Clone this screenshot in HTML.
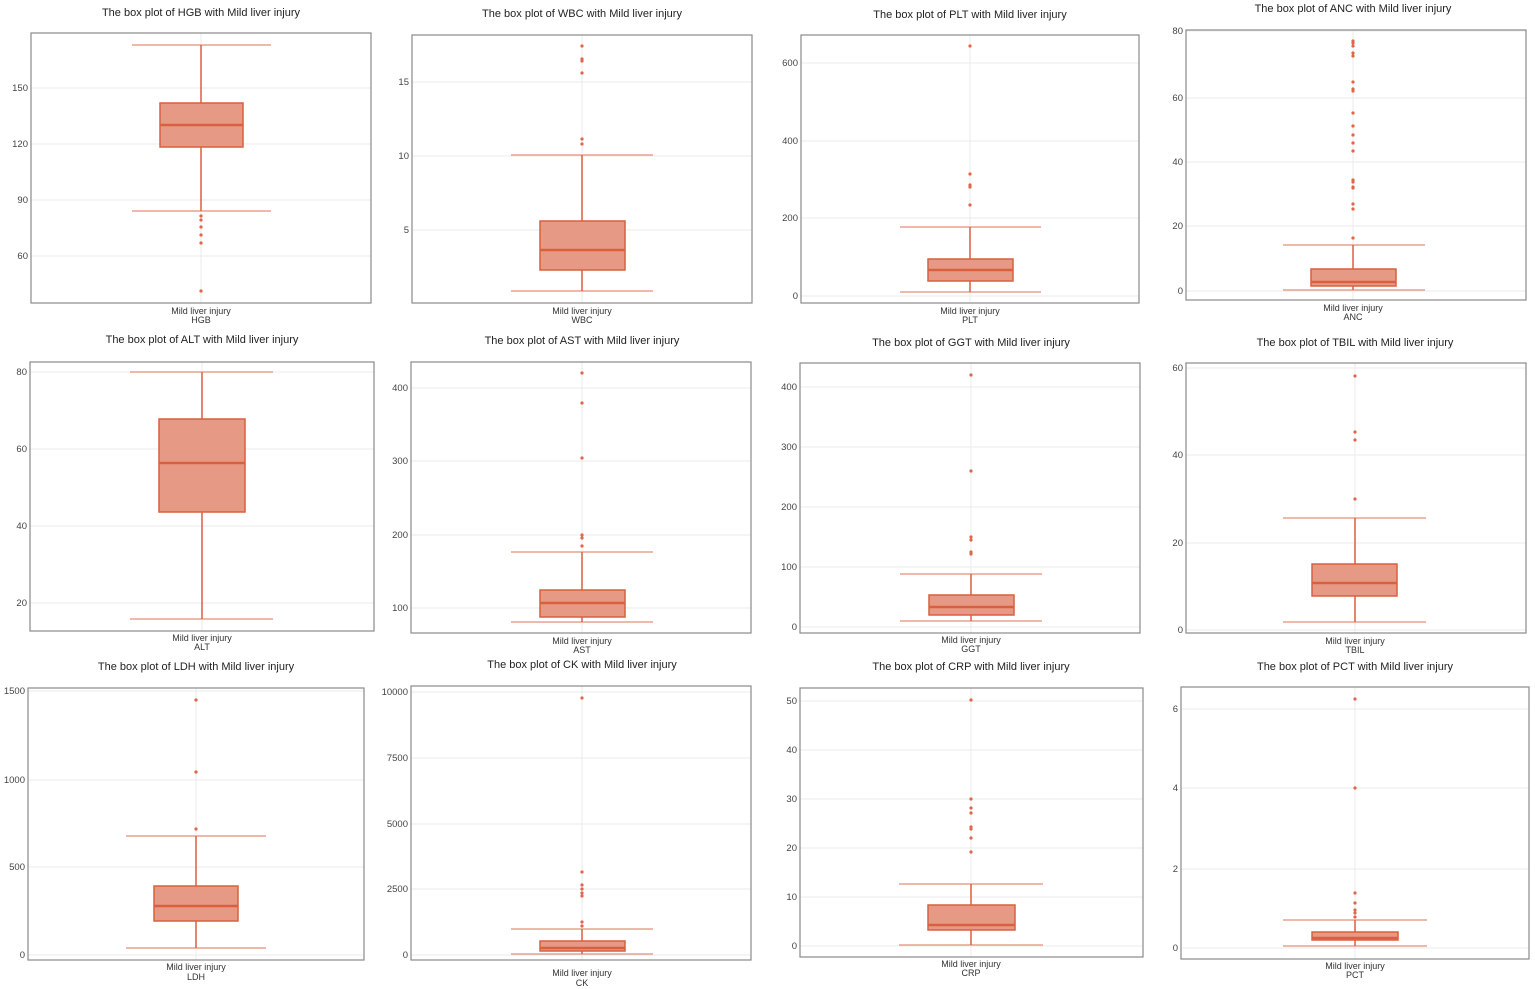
<!DOCTYPE html>
<html><head><meta charset="utf-8"><style>
html,body{margin:0;padding:0;background:#fff;}
svg{display:block;font-family:"Liberation Sans",sans-serif;}
.t{font-size:11px;fill:#222;text-anchor:middle;}
.l{font-size:9px;fill:#333;text-anchor:middle;}
.y{font-size:9.5px;fill:#444;text-anchor:end;}
.f{fill:none;stroke:#8a8a8a;stroke-width:1.2;}
.g{stroke:#ebebeb;stroke-width:1;}
.v{stroke:#ebebeb;stroke-width:1;}
.b{fill:#e69a85;stroke:#d9603e;stroke-width:1.5;}
.m{stroke:#d9603e;stroke-width:2.5;}
.w{stroke:#d9603e;stroke-width:1.5;}
.c{stroke:#e8a28f;stroke-width:1.5;}
.o{fill:#e0664a;}
</style></head><body>
<svg width="1535" height="989" viewBox="0 0 1535 989">
<!-- HGB -->
<g>
<text class="t" x="201" y="16">The box plot of HGB with Mild liver injury</text>
<line class="g" x1="31" x2="371" y1="88" y2="88"/><line class="g" x1="31" x2="371" y1="144" y2="144"/><line class="g" x1="31" x2="371" y1="200" y2="200"/><line class="g" x1="31" x2="371" y1="256" y2="256"/>
<line class="v" x1="201" x2="201" y1="33" y2="303"/>
<line class="c" x1="132" x2="271" y1="45" y2="45"/><line class="c" x1="132" x2="271" y1="211" y2="211"/>
<line class="w" x1="201" x2="201" y1="45" y2="211"/>
<rect class="b" x="160" y="103" width="83" height="44"/><line class="m" x1="160" x2="243" y1="125" y2="125"/>
<circle class="o" cx="201" cy="216" r="1.6"/><circle class="o" cx="201" cy="220" r="1.6"/><circle class="o" cx="201" cy="227" r="1.6"/><circle class="o" cx="201" cy="235" r="1.6"/><circle class="o" cx="201" cy="243" r="1.6"/><circle class="o" cx="201" cy="291" r="1.6"/>
<rect class="f" x="31" y="33" width="340" height="270"/>
<text class="y" x="28" y="91">150</text><text class="y" x="28" y="147">120</text><text class="y" x="28" y="203">90</text><text class="y" x="28" y="259">60</text>
<text class="l" x="201" y="314">Mild liver injury</text><text class="l" x="201" y="323">HGB</text>
</g>
<!-- WBC -->
<g>
<text class="t" x="582" y="17">The box plot of WBC with Mild liver injury</text>
<line class="g" x1="412" x2="752" y1="82" y2="82"/><line class="g" x1="412" x2="752" y1="156" y2="156"/><line class="g" x1="412" x2="752" y1="230" y2="230"/>
<line class="v" x1="582" x2="582" y1="35" y2="303"/>
<line class="c" x1="511" x2="653" y1="155" y2="155"/><line class="c" x1="511" x2="653" y1="291" y2="291"/>
<line class="w" x1="582" x2="582" y1="155" y2="291"/>
<rect class="b" x="540" y="221" width="85" height="49"/><line class="m" x1="540" x2="625" y1="250" y2="250"/>
<circle class="o" cx="582" cy="46" r="1.6"/><circle class="o" cx="582" cy="59" r="1.6"/><circle class="o" cx="582" cy="61" r="1.6"/><circle class="o" cx="582" cy="73" r="1.6"/><circle class="o" cx="582" cy="139" r="1.6"/><circle class="o" cx="582" cy="144" r="1.6"/>
<rect class="f" x="412" y="35" width="340" height="268"/>
<text class="y" x="409" y="85">15</text><text class="y" x="409" y="159">10</text><text class="y" x="409" y="233">5</text>
<text class="l" x="582" y="314">Mild liver injury</text><text class="l" x="582" y="323">WBC</text>
</g>
<!-- PLT -->
<g>
<text class="t" x="970" y="18">The box plot of PLT with Mild liver injury</text>
<line class="g" x1="801" x2="1139" y1="63" y2="63"/><line class="g" x1="801" x2="1139" y1="141" y2="141"/><line class="g" x1="801" x2="1139" y1="218" y2="218"/><line class="g" x1="801" x2="1139" y1="296" y2="296"/>
<line class="v" x1="970" x2="970" y1="35" y2="303"/>
<line class="c" x1="900" x2="1041" y1="227" y2="227"/><line class="c" x1="900" x2="1041" y1="292" y2="292"/>
<line class="w" x1="970" x2="970" y1="227" y2="292"/>
<rect class="b" x="928" y="259" width="85" height="22"/><line class="m" x1="928" x2="1013" y1="270" y2="270"/>
<circle class="o" cx="970" cy="46" r="1.6"/><circle class="o" cx="970" cy="174" r="1.6"/><circle class="o" cx="970" cy="185" r="1.6"/><circle class="o" cx="970" cy="187" r="1.6"/><circle class="o" cx="970" cy="205" r="1.6"/>
<rect class="f" x="801" y="35" width="338" height="268"/>
<text class="y" x="798" y="66">600</text><text class="y" x="798" y="144">400</text><text class="y" x="798" y="221">200</text><text class="y" x="798" y="299">0</text>
<text class="l" x="970" y="314">Mild liver injury</text><text class="l" x="970" y="323">PLT</text>
</g>
<!-- ANC -->
<g>
<text class="t" x="1353" y="12">The box plot of ANC with Mild liver injury</text>
<line class="g" x1="1186" x2="1526" y1="31" y2="31"/><line class="g" x1="1186" x2="1526" y1="98" y2="98"/><line class="g" x1="1186" x2="1526" y1="162" y2="162"/><line class="g" x1="1186" x2="1526" y1="226" y2="226"/><line class="g" x1="1186" x2="1526" y1="291" y2="291"/>
<line class="v" x1="1353" x2="1353" y1="30" y2="300"/>
<line class="c" x1="1283" x2="1425" y1="245" y2="245"/><line class="c" x1="1283" x2="1425" y1="290" y2="290"/>
<line class="w" x1="1353" x2="1353" y1="245" y2="290"/>
<rect class="b" x="1311" y="269" width="85" height="17"/><line class="m" x1="1311" x2="1396" y1="282" y2="282"/>
<circle class="o" cx="1353" cy="41" r="1.6"/><circle class="o" cx="1353" cy="43" r="1.6"/><circle class="o" cx="1353" cy="46" r="1.6"/><circle class="o" cx="1353" cy="53" r="1.6"/><circle class="o" cx="1353" cy="56" r="1.6"/><circle class="o" cx="1353" cy="82" r="1.6"/><circle class="o" cx="1353" cy="89" r="1.6"/><circle class="o" cx="1353" cy="91" r="1.6"/><circle class="o" cx="1353" cy="113" r="1.6"/><circle class="o" cx="1353" cy="126" r="1.6"/><circle class="o" cx="1353" cy="135" r="1.6"/><circle class="o" cx="1353" cy="143" r="1.6"/><circle class="o" cx="1353" cy="151" r="1.6"/><circle class="o" cx="1353" cy="180" r="1.6"/><circle class="o" cx="1353" cy="182" r="1.6"/><circle class="o" cx="1353" cy="187" r="1.6"/><circle class="o" cx="1353" cy="188" r="1.6"/><circle class="o" cx="1353" cy="204" r="1.6"/><circle class="o" cx="1353" cy="209" r="1.6"/><circle class="o" cx="1353" cy="238" r="1.6"/>
<rect class="f" x="1186" y="30" width="340" height="270"/>
<text class="y" x="1183" y="34">80</text><text class="y" x="1183" y="101">60</text><text class="y" x="1183" y="165">40</text><text class="y" x="1183" y="229">20</text><text class="y" x="1183" y="294">0</text>
<text class="l" x="1353" y="311">Mild liver injury</text><text class="l" x="1353" y="320">ANC</text>
</g>
<!-- ALT -->
<g>
<text class="t" x="202" y="343">The box plot of ALT with Mild liver injury</text>
<line class="g" x1="30" x2="374" y1="372" y2="372"/><line class="g" x1="30" x2="374" y1="449" y2="449"/><line class="g" x1="30" x2="374" y1="526" y2="526"/><line class="g" x1="30" x2="374" y1="603" y2="603"/>
<line class="v" x1="202" x2="202" y1="362" y2="631"/>
<line class="c" x1="130" x2="273" y1="372" y2="372"/><line class="c" x1="130" x2="273" y1="619" y2="619"/>
<line class="w" x1="202" x2="202" y1="372" y2="619"/>
<rect class="b" x="159" y="419" width="86" height="93"/><line class="m" x1="159" x2="245" y1="463" y2="463"/>
<rect class="f" x="30" y="362" width="344" height="269"/>
<text class="y" x="27" y="375">80</text><text class="y" x="27" y="452">60</text><text class="y" x="27" y="529">40</text><text class="y" x="27" y="606">20</text>
<text class="l" x="202" y="641">Mild liver injury</text><text class="l" x="202" y="650">ALT</text>
</g>
<!-- AST -->
<g>
<text class="t" x="582" y="344">The box plot of AST with Mild liver injury</text>
<line class="g" x1="411" x2="751" y1="388" y2="388"/><line class="g" x1="411" x2="751" y1="461" y2="461"/><line class="g" x1="411" x2="751" y1="535" y2="535"/><line class="g" x1="411" x2="751" y1="608" y2="608"/>
<line class="v" x1="582" x2="582" y1="362" y2="633"/>
<line class="c" x1="511" x2="653" y1="552" y2="552"/><line class="c" x1="511" x2="653" y1="622" y2="622"/>
<line class="w" x1="582" x2="582" y1="552" y2="622"/>
<rect class="b" x="540" y="590" width="85" height="27"/><line class="m" x1="540" x2="625" y1="603" y2="603"/>
<circle class="o" cx="582" cy="373" r="1.6"/><circle class="o" cx="582" cy="403" r="1.6"/><circle class="o" cx="582" cy="458" r="1.6"/><circle class="o" cx="582" cy="535" r="1.6"/><circle class="o" cx="582" cy="538" r="1.6"/><circle class="o" cx="582" cy="546" r="1.6"/>
<rect class="f" x="411" y="362" width="340" height="271"/>
<text class="y" x="408" y="391">400</text><text class="y" x="408" y="464">300</text><text class="y" x="408" y="538">200</text><text class="y" x="408" y="611">100</text>
<text class="l" x="582" y="644">Mild liver injury</text><text class="l" x="582" y="653">AST</text>
</g>
<!-- GGT -->
<g>
<text class="t" x="971" y="346">The box plot of GGT with Mild liver injury</text>
<line class="g" x1="800" x2="1140" y1="387" y2="387"/><line class="g" x1="800" x2="1140" y1="447" y2="447"/><line class="g" x1="800" x2="1140" y1="507" y2="507"/><line class="g" x1="800" x2="1140" y1="567" y2="567"/><line class="g" x1="800" x2="1140" y1="627" y2="627"/>
<line class="v" x1="971" x2="971" y1="363" y2="633"/>
<line class="c" x1="900" x2="1042" y1="574" y2="574"/><line class="c" x1="900" x2="1042" y1="621" y2="621"/>
<line class="w" x1="971" x2="971" y1="574" y2="621"/>
<rect class="b" x="929" y="595" width="85" height="20"/><line class="m" x1="929" x2="1014" y1="607" y2="607"/>
<circle class="o" cx="971" cy="375" r="1.6"/><circle class="o" cx="971" cy="471" r="1.6"/><circle class="o" cx="971" cy="537" r="1.6"/><circle class="o" cx="971" cy="540" r="1.6"/><circle class="o" cx="971" cy="552" r="1.6"/><circle class="o" cx="971" cy="554" r="1.6"/>
<rect class="f" x="800" y="363" width="340" height="270"/>
<text class="y" x="797" y="390">400</text><text class="y" x="797" y="450">300</text><text class="y" x="797" y="510">200</text><text class="y" x="797" y="570">100</text><text class="y" x="797" y="630">0</text>
<text class="l" x="971" y="643">Mild liver injury</text><text class="l" x="971" y="652">GGT</text>
</g>
<!-- TBIL -->
<g>
<text class="t" x="1355" y="346">The box plot of TBIL with Mild liver injury</text>
<line class="g" x1="1186" x2="1526" y1="368" y2="368"/><line class="g" x1="1186" x2="1526" y1="455" y2="455"/><line class="g" x1="1186" x2="1526" y1="543" y2="543"/><line class="g" x1="1186" x2="1526" y1="630" y2="630"/>
<line class="v" x1="1355" x2="1355" y1="363" y2="633"/>
<line class="c" x1="1283" x2="1426" y1="518" y2="518"/><line class="c" x1="1283" x2="1426" y1="622" y2="622"/>
<line class="w" x1="1355" x2="1355" y1="518" y2="622"/>
<rect class="b" x="1312" y="564" width="85" height="32"/><line class="m" x1="1312" x2="1397" y1="583" y2="583"/>
<circle class="o" cx="1355" cy="376" r="1.6"/><circle class="o" cx="1355" cy="432" r="1.6"/><circle class="o" cx="1355" cy="440" r="1.6"/><circle class="o" cx="1355" cy="499" r="1.6"/>
<rect class="f" x="1186" y="363" width="340" height="270"/>
<text class="y" x="1183" y="371">60</text><text class="y" x="1183" y="458">40</text><text class="y" x="1183" y="546">20</text><text class="y" x="1183" y="633">0</text>
<text class="l" x="1355" y="644">Mild liver injury</text><text class="l" x="1355" y="653">TBIL</text>
</g>
<!-- LDH -->
<g>
<text class="t" x="196" y="670">The box plot of LDH with Mild liver injury</text>
<line class="g" x1="28" x2="364" y1="691" y2="691"/><line class="g" x1="28" x2="364" y1="780" y2="780"/><line class="g" x1="28" x2="364" y1="867" y2="867"/><line class="g" x1="28" x2="364" y1="955" y2="955"/>
<line class="v" x1="196" x2="196" y1="688" y2="960"/>
<line class="c" x1="126" x2="266" y1="836" y2="836"/><line class="c" x1="126" x2="266" y1="948" y2="948"/>
<line class="w" x1="196" x2="196" y1="836" y2="948"/>
<rect class="b" x="154" y="886" width="84" height="35"/><line class="m" x1="154" x2="238" y1="906" y2="906"/>
<circle class="o" cx="196" cy="700" r="1.6"/><circle class="o" cx="196" cy="772" r="1.6"/><circle class="o" cx="196" cy="829" r="1.6"/>
<rect class="f" x="28" y="688" width="336" height="272"/>
<text class="y" x="25" y="694">1500</text><text class="y" x="25" y="783">1000</text><text class="y" x="25" y="870">500</text><text class="y" x="25" y="958">0</text>
<text class="l" x="196" y="970">Mild liver injury</text><text class="l" x="196" y="980">LDH</text>
</g>
<!-- CK -->
<g>
<text class="t" x="582" y="668">The box plot of CK with Mild liver injury</text>
<line class="g" x1="411" x2="751" y1="692" y2="692"/><line class="g" x1="411" x2="751" y1="758" y2="758"/><line class="g" x1="411" x2="751" y1="824" y2="824"/><line class="g" x1="411" x2="751" y1="889" y2="889"/><line class="g" x1="411" x2="751" y1="955" y2="955"/>
<line class="v" x1="582" x2="582" y1="686" y2="960"/>
<line class="c" x1="511" x2="653" y1="929" y2="929"/><line class="c" x1="511" x2="653" y1="954" y2="954"/>
<line class="w" x1="582" x2="582" y1="929" y2="954"/>
<rect class="b" x="540" y="941" width="85" height="10"/><line class="m" x1="540" x2="625" y1="948" y2="948"/>
<circle class="o" cx="582" cy="698" r="1.6"/><circle class="o" cx="582" cy="872" r="1.6"/><circle class="o" cx="582" cy="885" r="1.6"/><circle class="o" cx="582" cy="889" r="1.6"/><circle class="o" cx="582" cy="893" r="1.6"/><circle class="o" cx="582" cy="896" r="1.6"/><circle class="o" cx="582" cy="922" r="1.6"/><circle class="o" cx="582" cy="926" r="1.6"/>
<rect class="f" x="411" y="686" width="340" height="274"/>
<text class="y" x="408" y="695">10000</text><text class="y" x="408" y="761">7500</text><text class="y" x="408" y="827">5000</text><text class="y" x="408" y="892">2500</text><text class="y" x="408" y="958">0</text>
<text class="l" x="582" y="976">Mild liver injury</text><text class="l" x="582" y="986">CK</text>
</g>
<!-- CRP -->
<g>
<text class="t" x="971" y="670">The box plot of CRP with Mild liver injury</text>
<line class="g" x1="800" x2="1143" y1="701" y2="701"/><line class="g" x1="800" x2="1143" y1="750" y2="750"/><line class="g" x1="800" x2="1143" y1="799" y2="799"/><line class="g" x1="800" x2="1143" y1="848" y2="848"/><line class="g" x1="800" x2="1143" y1="897" y2="897"/><line class="g" x1="800" x2="1143" y1="946" y2="946"/>
<line class="v" x1="971" x2="971" y1="688" y2="957"/>
<line class="c" x1="899" x2="1043" y1="884" y2="884"/><line class="c" x1="899" x2="1043" y1="945" y2="945"/>
<line class="w" x1="971" x2="971" y1="884" y2="945"/>
<rect class="b" x="928" y="905" width="87" height="25"/><line class="m" x1="928" x2="1015" y1="925" y2="925"/>
<circle class="o" cx="971" cy="700" r="1.6"/><circle class="o" cx="971" cy="799" r="1.6"/><circle class="o" cx="971" cy="808" r="1.6"/><circle class="o" cx="971" cy="813" r="1.6"/><circle class="o" cx="971" cy="827" r="1.6"/><circle class="o" cx="971" cy="829" r="1.6"/><circle class="o" cx="971" cy="838" r="1.6"/><circle class="o" cx="971" cy="852" r="1.6"/>
<rect class="f" x="800" y="688" width="343" height="269"/>
<text class="y" x="797" y="704">50</text><text class="y" x="797" y="753">40</text><text class="y" x="797" y="802">30</text><text class="y" x="797" y="851">20</text><text class="y" x="797" y="900">10</text><text class="y" x="797" y="949">0</text>
<text class="l" x="971" y="967">Mild liver injury</text><text class="l" x="971" y="976">CRP</text>
</g>
<!-- PCT -->
<g>
<text class="t" x="1355" y="670">The box plot of PCT with Mild liver injury</text>
<line class="g" x1="1181" x2="1529" y1="709" y2="709"/><line class="g" x1="1181" x2="1529" y1="788" y2="788"/><line class="g" x1="1181" x2="1529" y1="869" y2="869"/><line class="g" x1="1181" x2="1529" y1="948" y2="948"/>
<line class="v" x1="1355" x2="1355" y1="687" y2="959"/>
<line class="c" x1="1283" x2="1427" y1="920" y2="920"/><line class="c" x1="1283" x2="1427" y1="946" y2="946"/>
<line class="w" x1="1355" x2="1355" y1="920" y2="946"/>
<rect class="b" x="1312" y="932" width="86" height="8"/><line class="m" x1="1312" x2="1398" y1="938" y2="938"/>
<circle class="o" cx="1355" cy="699" r="1.6"/><circle class="o" cx="1355" cy="788" r="1.6"/><circle class="o" cx="1355" cy="893" r="1.6"/><circle class="o" cx="1355" cy="903" r="1.6"/><circle class="o" cx="1355" cy="910" r="1.6"/><circle class="o" cx="1355" cy="913" r="1.6"/><circle class="o" cx="1355" cy="917" r="1.6"/>
<rect class="f" x="1181" y="687" width="348" height="272"/>
<text class="y" x="1178" y="712">6</text><text class="y" x="1178" y="791">4</text><text class="y" x="1178" y="872">2</text><text class="y" x="1178" y="951">0</text>
<text class="l" x="1355" y="969">Mild liver injury</text><text class="l" x="1355" y="978">PCT</text>
</g>
</svg>
</body></html>
